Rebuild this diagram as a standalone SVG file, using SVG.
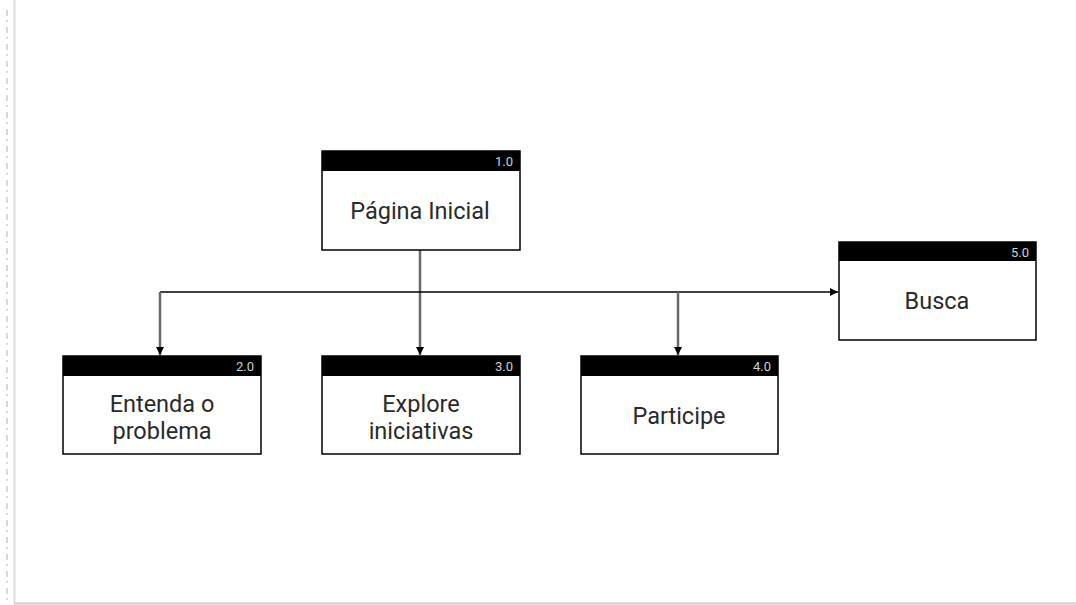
<svg xmlns="http://www.w3.org/2000/svg" width="1076" height="605" viewBox="0 0 1076 605">
<style>
.box{fill:#fff;stroke:#000;stroke-width:1.5}
.hdr{fill:#000}
.num{font-family:Roboto,"Liberation Sans",sans-serif;font-size:13px;fill:#d0d0d0;text-anchor:end}
.lbl{font-family:Roboto,"Liberation Sans",sans-serif;font-size:23.5px;fill:#2a2a2a;text-anchor:middle}
.ln{fill:none;stroke:#000;stroke-width:1.5}
.lg{fill:none;stroke:#6a6a6a;stroke-width:2.5}
</style>
<defs>
<marker id="ah" viewBox="0 0 10 10" refX="10" refY="5" markerWidth="8" markerHeight="8" markerUnits="userSpaceOnUse" orient="auto">
<path d="M0,0 L10,5 L0,10 z" fill="#000"/>
</marker>
</defs>
<rect width="1076" height="605" fill="#fff"/>
<line x1="14.5" y1="0" x2="14.5" y2="603" stroke="#ddd" stroke-width="2"/>
<line x1="14" y1="603.5" x2="1076" y2="603.5" stroke="#ccc" stroke-width="2"/>
<line x1="7" y1="10" x2="7" y2="605" stroke="#ccc" stroke-width="1.5" stroke-dasharray="6,4,2,5"/>
<g id="connectors">
<line class="lg" x1="420" y1="250" x2="420" y2="355" marker-end="url(#ah)"/>
<path class="ln" d="M160,292 L838,292" marker-end="url(#ah)"/>
<line class="lg" x1="160" y1="292" x2="160" y2="355" marker-end="url(#ah)"/>
<line class="lg" x1="678" y1="292" x2="678" y2="355" marker-end="url(#ah)"/>
</g>
<g id="n1">
<rect class="box" x="322" y="151" width="198" height="99"/>
<rect class="hdr" x="322" y="151" width="198" height="20"/>
<text class="num" x="513" y="166">1.0</text>
<text class="lbl" x="420" y="219">Página Inicial</text>
</g>
<g id="n2">
<rect class="box" x="63" y="356" width="198" height="98"/>
<rect class="hdr" x="63" y="356" width="198" height="20"/>
<text class="num" x="254" y="371">2.0</text>
<text class="lbl" x="162" y="412">Entenda o</text>
<text class="lbl" x="162" y="439">problema</text>
</g>
<g id="n3">
<rect class="box" x="322" y="356" width="198" height="98"/>
<rect class="hdr" x="322" y="356" width="198" height="20"/>
<text class="num" x="513" y="371">3.0</text>
<text class="lbl" x="421" y="412">Explore</text>
<text class="lbl" x="421" y="439">iniciativas</text>
</g>
<g id="n4">
<rect class="box" x="581" y="356" width="197" height="98"/>
<rect class="hdr" x="581" y="356" width="197" height="20"/>
<text class="num" x="771" y="371">4.0</text>
<text class="lbl" x="679" y="424">Participe</text>
</g>
<g id="n5">
<rect class="box" x="839" y="242" width="197" height="98"/>
<rect class="hdr" x="839" y="242" width="197" height="19"/>
<text class="num" x="1029" y="257">5.0</text>
<text class="lbl" x="937" y="309">Busca</text>
</g>
</svg>
